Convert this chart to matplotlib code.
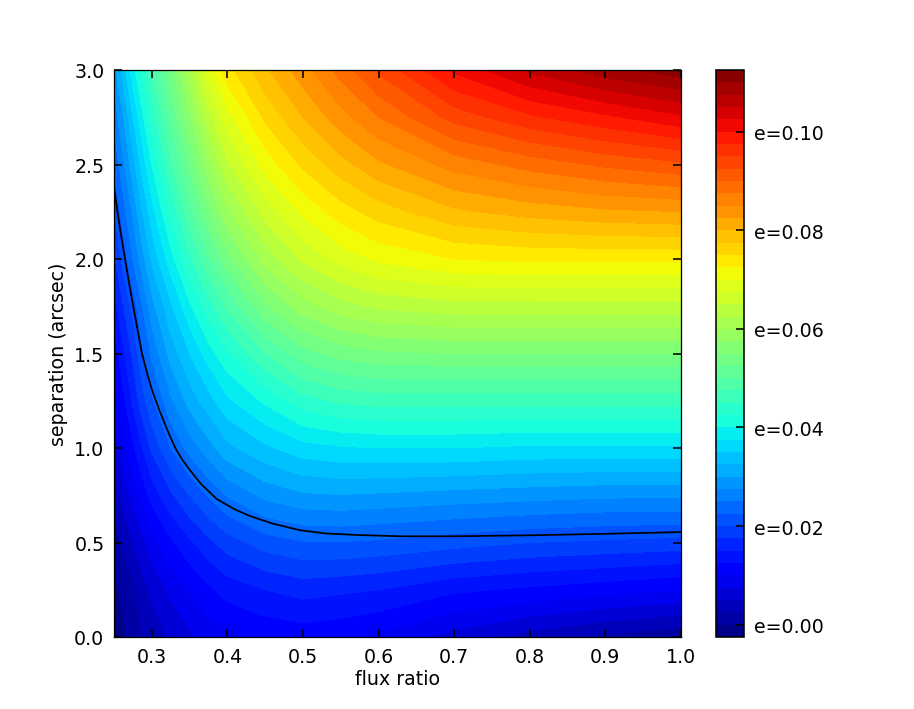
import numpy as np
import matplotlib
matplotlib.use("Agg")
import matplotlib.pyplot as plt

# flux ratio / separation grid, e values
flux = [0.25, 0.2625, 0.275, 0.2875, 0.30, 0.325, 0.35, 0.375, 0.40,
        0.45, 0.50, 0.55, 0.60, 0.70, 0.80, 0.90, 1.00]
sep = [0.0, 0.25, 0.5, 0.75, 1.0, 1.25, 1.5, 1.75, 2.0, 2.25, 2.5, 2.75, 3.0]
e_vals = [
    [-0.0015, -0.0005, 0.001, 0.0025, 0.0035, 0.0055, 0.007, 0.0085, 0.0095,
     0.0105, 0.011, 0.0105, 0.0095, 0.0065, 0.004, 0.002, 0.0005],
    [-0.0005, 0.0005, 0.002, 0.004, 0.0055, 0.008, 0.010, 0.012, 0.0135,
     0.015, 0.016, 0.0155, 0.015, 0.013, 0.012, 0.011, 0.010],
    [0.001, 0.003, 0.005, 0.007, 0.009, 0.012, 0.0145, 0.0168, 0.0188,
     0.0212, 0.0223, 0.0224, 0.022, 0.021, 0.020, 0.0195, 0.019],
    [0.0035, 0.006, 0.0085, 0.011, 0.0135, 0.017, 0.020, 0.0228, 0.0252,
     0.0282, 0.0296, 0.0299, 0.0296, 0.029, 0.0285, 0.028, 0.028],
    [0.006, 0.009, 0.012, 0.015, 0.018, 0.0225, 0.026, 0.029, 0.0318,
     0.0345, 0.0365, 0.0372, 0.0375, 0.0375, 0.037, 0.037, 0.037],
    [0.0085, 0.012, 0.0155, 0.019, 0.022, 0.027, 0.031, 0.034, 0.037,
     0.0405, 0.0440, 0.0455, 0.046, 0.046, 0.046, 0.046, 0.046],
    [0.011, 0.0145, 0.018, 0.022, 0.0255, 0.031, 0.035, 0.0388, 0.042,
     0.0475, 0.0515, 0.0535, 0.0545, 0.055, 0.055, 0.055, 0.055],
    [0.014, 0.0175, 0.021, 0.025, 0.029, 0.0345, 0.0395, 0.044, 0.048,
     0.0545, 0.059, 0.0615, 0.063, 0.064, 0.064, 0.064, 0.064],
    [0.017, 0.021, 0.025, 0.029, 0.033, 0.039, 0.0445, 0.0495, 0.054,
     0.061, 0.0655, 0.0685, 0.0705, 0.0725, 0.073, 0.073, 0.073],
    [0.020, 0.024, 0.028, 0.0325, 0.0365, 0.043, 0.049, 0.0545, 0.0595,
     0.066, 0.0705, 0.0738, 0.0762, 0.0795, 0.081, 0.082, 0.0825],
    [0.023, 0.027, 0.0315, 0.036, 0.040, 0.047, 0.053, 0.059, 0.0645,
     0.071, 0.0755, 0.079, 0.082, 0.086, 0.0885, 0.0905, 0.092],
    [0.026, 0.030, 0.035, 0.0395, 0.0435, 0.0505, 0.057, 0.064, 0.069,
     0.0755, 0.080, 0.084, 0.0875, 0.0935, 0.097, 0.0995, 0.102],
    [0.029, 0.034, 0.039, 0.043, 0.047, 0.054, 0.0615, 0.069, 0.074,
     0.0795, 0.084, 0.0885, 0.093, 0.1005, 0.1055, 0.109, 0.1115],
]

# black limit curve
line_x = [0.25, 0.255, 0.26, 0.265, 0.27, 0.275, 0.28, 0.287, 0.295, 0.30,
          0.31, 0.32, 0.331, 0.34, 0.35, 0.365, 0.386, 0.41, 0.43, 0.46,
          0.496, 0.53, 0.57, 0.628, 0.70, 0.80, 0.90, 1.00]
line_y = [2.38, 2.24, 2.11, 1.99, 1.87, 1.76, 1.65, 1.50, 1.38, 1.31,
          1.20, 1.10, 1.00, 0.94, 0.885, 0.81, 0.73, 0.675, 0.64, 0.60,
          0.565, 0.548, 0.54, 0.533, 0.533, 0.538, 0.546, 0.555]

levels = np.arange(-0.0025, 0.1126, 0.0025)
cb_ticks = [0.0, 0.02, 0.04, 0.06, 0.08, 0.10]

plt.rcParams['font.family'] = 'DejaVu Sans'
plt.rcParams['xtick.direction'] = 'in'
plt.rcParams['ytick.direction'] = 'in'
plt.rcParams['xtick.top'] = True
plt.rcParams['ytick.right'] = True

fig = plt.figure(figsize=(8, 6.2144), dpi=114.25, facecolor='white')
ax = fig.add_axes([114/914, 72/710, 567/914, 567/710])
cax = fig.add_axes([716/914, 72/710, 28/914, 567/710])

X, Y = np.meshgrid(flux, sep)
cs = ax.contourf(X, Y, np.array(e_vals), levels=levels, cmap='jet')
ax.plot(line_x, line_y, 'k-', lw=1.1)

ax.set_xlim(0.25, 1.0)
ax.set_ylim(0.0, 3.0)
ax.set_xticks([0.3, 0.4, 0.5, 0.6, 0.7, 0.8, 0.9, 1.0])
ax.set_yticks([0.0, 0.5, 1.0, 1.5, 2.0, 2.5, 3.0])
ax.tick_params(labelsize=12, length=5, width=1, pad=6)
ax.set_xlabel('flux ratio', fontsize=12, labelpad=2)
ax.set_ylabel('separation (arcsec)', fontsize=12, labelpad=4)

cb = fig.colorbar(cs, cax=cax, ticks=cb_ticks, format='e=%.2f')
cb.ax.tick_params(labelsize=12, direction='in', length=5, width=1, pad=6)
cb.outline.set_linewidth(1)

fig.savefig('out.png', dpi=114.25, facecolor='white')
